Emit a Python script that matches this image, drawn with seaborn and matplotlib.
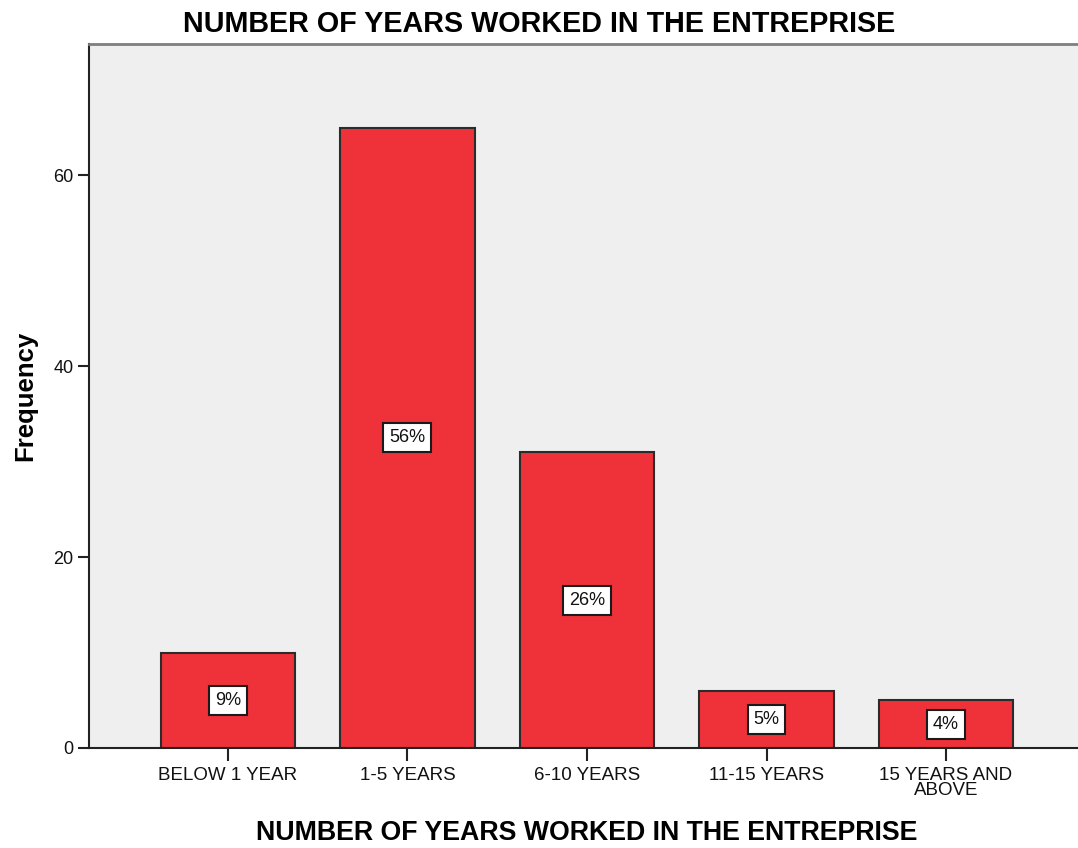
import matplotlib
matplotlib.use("Agg")
import matplotlib.pyplot as plt
import seaborn as sns
import pandas as pd

categories = ["BELOW 1 YEAR", "1-5 YEARS", "6-10 YEARS", "11-15 YEARS", "15 YEARS AND\nABOVE"]
frequency = [10, 65, 31, 6, 5]
percent_labels = ["9%", "56%", "26%", "5%", "4%"]
y_ticks = [0, 20, 40, 60]

sns.set_theme(style="white")
plt.rcParams["font.family"] = ["Liberation Sans", "DejaVu Sans"]
plt.rcParams["text.color"] = "black"
plt.rcParams["axes.labelcolor"] = "black"
plt.rcParams["xtick.color"] = "#222222"
plt.rcParams["ytick.color"] = "#222222"

df = pd.DataFrame({"years": categories, "freq": frequency})

fig = plt.figure(figsize=(10.78, 8.48), dpi=100)
ax = fig.add_axes([89 / 1078, 100 / 848, (1085 - 89) / 1078, 704 / 848])
ax.set_facecolor("#EFEFEF")

sns.barplot(data=df, x="years", y="freq", order=categories, color="#EF323A",
            saturation=1, width=0.75, edgecolor="#2b2b2b", linewidth=1.5, ax=ax)

for i, (v, lab) in enumerate(zip(frequency, percent_labels)):
    ax.text(i, v / 2, lab, ha="center", va="center", fontsize=13, color="#111111",
            bbox=dict(boxstyle="square,pad=0.33", facecolor="white", edgecolor="#1a1a1a", linewidth=1.5))

ax.set_xlim(-0.774, 4.774)
ax.set_ylim(0, 73.76)
ax.set_yticks(y_ticks)
ax.tick_params(axis="y", length=8, width=1.5, labelsize=13, labelcolor="#111111", pad=3, left=True)
ax.tick_params(axis="x", length=9, width=1.5, labelsize=13.5, labelcolor="#111111", pad=5, bottom=True)
for t in ax.get_xticklabels():
    t.set_linespacing(0.85)

ax.set_xlabel("NUMBER OF YEARS WORKED IN THE ENTREPRISE", fontsize=19.3, fontweight="bold", labelpad=15)
ax.set_ylabel("Frequency", fontsize=18.5, fontweight="bold", labelpad=12)

for side in ["left", "bottom"]:
    ax.spines[side].set_color("#222222")
    ax.spines[side].set_linewidth(1.5)
ax.spines["top"].set_color("#7f7f7f")
ax.spines["top"].set_linewidth(2)
ax.spines["right"].set_visible(False)

fig.suptitle("NUMBER OF YEARS WORKED IN THE ENTREPRISE", fontsize=20.7, fontweight="bold", y=0.988, va="top")

fig.savefig("out.png", dpi=100, facecolor="white")
